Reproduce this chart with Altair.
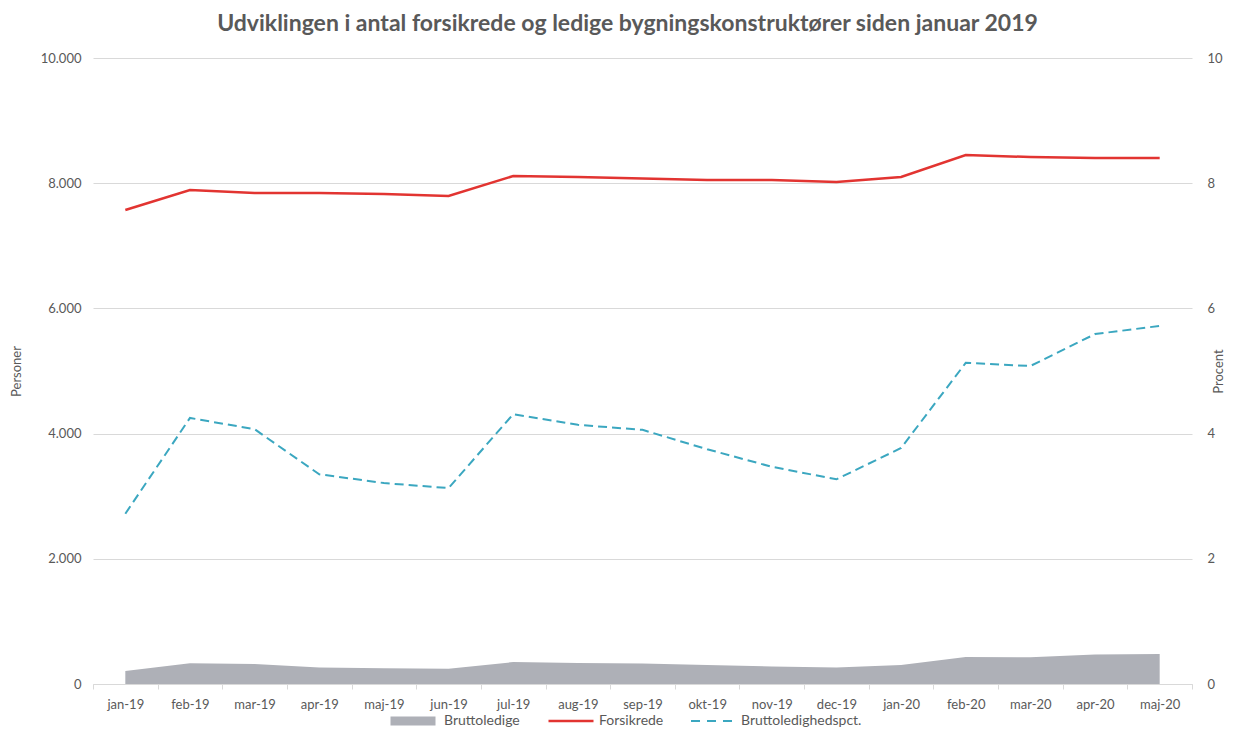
import altair as alt
import pandas as pd

months = ["jan-19", "feb-19", "mar-19", "apr-19", "maj-19", "jun-19", "jul-19", "aug-19",
          "sep-19", "okt-19", "nov-19", "dec-19", "jan-20", "feb-20", "mar-20", "apr-20", "maj-20"]
forsikrede = [7572, 7891, 7843, 7843, 7827, 7796, 8115, 8099, 8075, 8051, 8051, 8019,
              8099, 8450, 8418, 8403, 8403]
bruttoledige = [208, 333, 318, 265, 251, 244, 350, 335, 328, 302, 279, 262,
                305, 433, 428, 470, 481]
pct = [2.72, 4.25, 4.07, 3.35, 3.21, 3.13, 4.31, 4.14, 4.06, 3.75, 3.47, 3.27,
       3.77, 5.13, 5.08, 5.59, 5.72]

df = pd.DataFrame({"month": months, "forsikrede": forsikrede,
                   "ledige": bruttoledige, "pct": pct})
df["s_area"] = "Bruttoledige"
df["s_red"] = "Forsikrede"
df["s_pct"] = "Bruttoledighedspct."

FONT = "Lato"
GREY_TXT = "#595959"
RED = "#e23431"
TEAL = "#3ba7c0"
AREA = "#aeb0b7"

x = alt.X("month:N", sort=months, bandPosition=0.5,
          scale=alt.Scale(type="band", paddingInner=0, paddingOuter=0),
          axis=alt.Axis(title=None, labelAngle=0, tickBand="extent", domainColor="#d9d9d9",
                        tickColor="#d9d9d9", tickSize=5, labelPadding=9, labelFontSize=13,
                        labelColor=GREY_TXT, labelFont=FONT, grid=False))

left_axis = alt.Axis(title="Personer", values=[0, 2000, 4000, 6000, 8000, 10000],
                     labelExpr="replace(format(datum.value, ','), ',', '.')",
                     domain=False, ticks=False, labelPadding=12, labelFontSize=13,
                     labelColor=GREY_TXT, labelFont=FONT, titleFont=FONT, titleFontSize=13,
                     titleFontWeight="normal", titleColor=GREY_TXT, titlePadding=17,
                     grid=True, gridColor="#d9d9d9")
yleft_scale = alt.Scale(domain=[0, 10000], nice=False)

LEG_Y = 655
legend_common = dict(orient="none", title=None, symbolType="stroke", symbolSize=2025,
                     clipHeight=16, labelFontSize=14, labelColor=GREY_TXT, labelFont=FONT,
                     legendY=LEG_Y)

area = alt.Chart(df).mark_area(color=AREA, opacity=1).encode(
    x=x,
    y=alt.Y("ledige:Q", scale=yleft_scale, axis=left_axis),
    color=alt.Color("s_area:N", scale=alt.Scale(domain=["Bruttoledige"], range=[AREA]),
                    legend=alt.Legend(symbolStrokeWidth=9, symbolStrokeColor=AREA,
                                      legendX=293, **legend_common))
)

red = alt.Chart(df).mark_line(strokeWidth=2.5).encode(
    x=x,
    y=alt.Y("forsikrede:Q", scale=yleft_scale, axis=left_axis),
    color=alt.Color("s_red:N", scale=alt.Scale(domain=["Forsikrede"], range=[RED]),
                    legend=alt.Legend(symbolStrokeWidth=2.5, legendX=454, **legend_common))
)

leftlayer = alt.layer(area, red).resolve_scale(color="independent")

dashed = alt.Chart(df).mark_line(strokeWidth=2, strokeDash=[9, 5]).encode(
    x=x,
    y=alt.Y("pct:Q", scale=alt.Scale(domain=[0, 10], nice=False),
            axis=alt.Axis(title="Procent", orient="right", values=[0, 2, 4, 6, 8, 10],
                          domain=False, ticks=False, grid=False, labelPadding=15,
                          labelFontSize=13, labelColor=GREY_TXT, labelFont=FONT,
                          titleFont=FONT, titleFontSize=13, titleFontWeight="normal",
                          titleColor=GREY_TXT, titlePadding=3, titleAngle=270)),
    color=alt.Color("s_pct:N", scale=alt.Scale(domain=["Bruttoledighedspct."], range=[TEAL]),
                    legend=alt.Legend(symbolStrokeWidth=2, symbolDash=[9, 7], legendX=597,
                                      **legend_common))
)

chart = alt.layer(leftlayer, dashed).resolve_scale(y="independent", color="independent").properties(
    width=1099, height=626,
    title=alt.TitleParams("Udviklingen i antal forsikrede og ledige bygningskonstruktører siden januar 2019",
                          font=FONT, fontSize=23, fontWeight="bold", color=GREY_TXT,
                          anchor="middle", offset=16, dx=-15),
    padding={"left": 2, "top": 5, "right": 0, "bottom": 0},
).configure_view(stroke=None)

chart.save("out.html", embed_options={"renderer": "svg", "actions": False})
